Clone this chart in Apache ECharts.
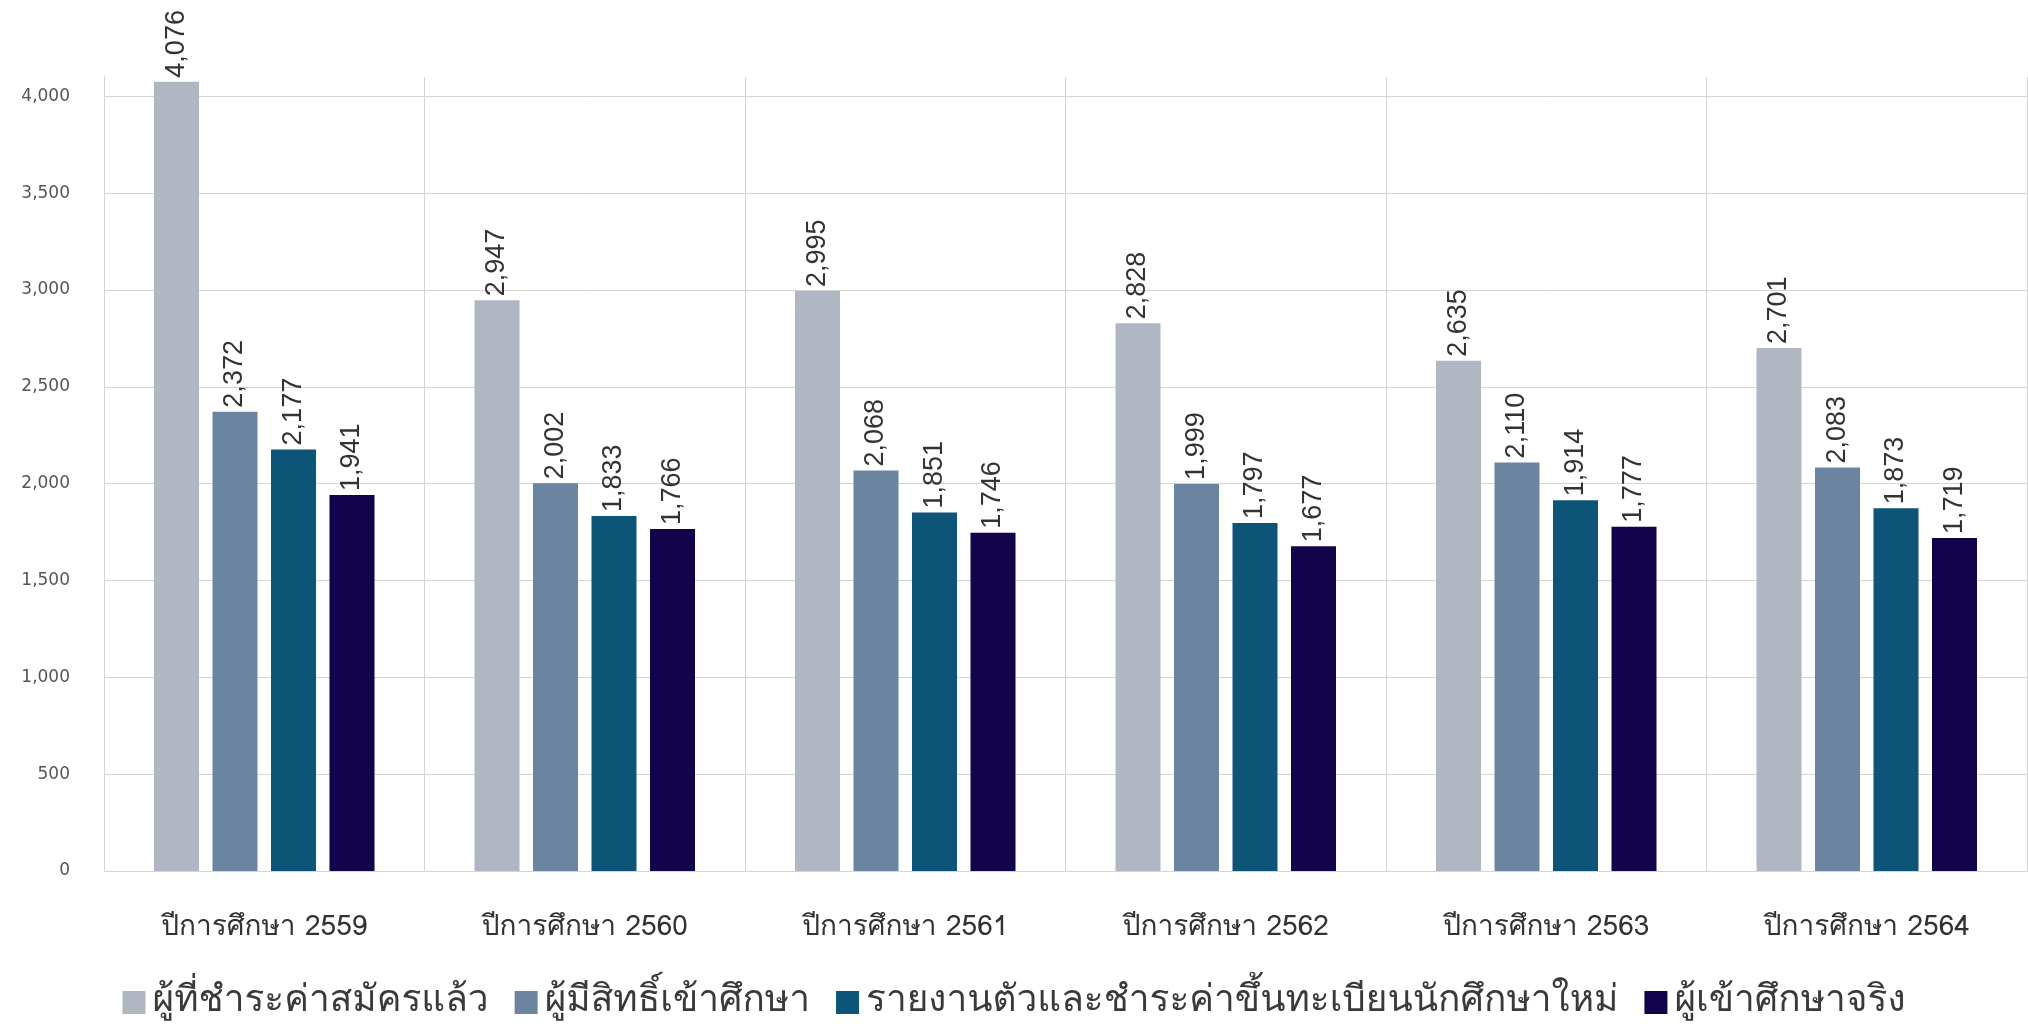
<!DOCTYPE html>
<html>
<head>
<meta charset="utf-8">
<script src="https://cdn.jsdelivr.net/npm/echarts@6/dist/echarts.min.js"></script>
<style>html,body{margin:0;padding:0;background:#fff}#c{width:2028px;height:1024px}</style>
</head>
<body>
<div id="c"></div>
<script>
const categories = ['ปีการศึกษา 2559','ปีการศึกษา 2560','ปีการศึกษา 2561','ปีการศึกษา 2562','ปีการศึกษา 2563','ปีการศึกษา 2564'];
const seriesNames = ['ผู้ที่ชำระค่าสมัครแล้ว','ผู้มีสิทธิ์เข้าศึกษา','รายงานตัวและชำระค่าขึ้นทะเบียนนักศึกษาใหม่','ผู้เข้าศึกษาจริง'];
const paidApplicants = [4076, 2947, 2995, 2828, 2635, 2701];
const eligible = [2372, 2002, 2068, 1999, 2110, 2083];
const registered = [2177, 1833, 1851, 1797, 1914, 1873];
const enrolled = [1941, 1766, 1746, 1677, 1777, 1719];
const yTicks = [0, 500, 1000, 1500, 2000, 2500, 3000, 3500, 4000];
const colors = ['#b1b6c3', '#6b85a0', '#0c5577', '#13034b'];
const seriesData = [paidApplicants, eligible, registered, enrolled];

const thaiFont = 'Waree, Loma, Tahoma, "DejaVu Sans", "Noto Sans Thai", sans-serif';
const chart = echarts.init(document.getElementById('c'));
chart.setOption({
  animation: false,
  color: colors,
  grid: { left: 104, right: 1, top: 77, bottom: 153 },
  legend: {
    data: seriesNames,
    top: 979,
    left: 'center',
    icon: 'rect',
    itemWidth: 23,
    itemHeight: 23,
    itemGap: 26,
    textStyle: { fontFamily: thaiFont, fontSize: 37, color: '#3a3a3a', padding: [0, 0, 0, 2] }
  },
  xAxis: {
    type: 'category',
    data: categories,
    axisLine: { show: true, lineStyle: { color: '#d4d4d4', width: 1 } },
    axisTick: { show: false },
    splitLine: { show: true, lineStyle: { color: '#d4d4d4', width: 1 } },
    axisLabel: { fontFamily: thaiFont, fontSize: 28, color: '#333', margin: 44 }
  },
  yAxis: {
    type: 'value',
    min: 0,
    max: 4100,
    interval: 500,
    axisLine: { show: true, lineStyle: { color: '#d4d4d4', width: 1 } },
    axisTick: { show: false },
    splitLine: { show: true, showMaxLine: false, lineStyle: { color: '#d4d4d4', width: 1 } },
    axisLabel: {
      fontFamily: '"DejaVu Sans", sans-serif',
      fontSize: 17,
      color: '#555',
      margin: 34,
      formatter: function (v) { return yTicks.indexOf(v) >= 0 ? v.toLocaleString('en-US') : ''; }
    }
  },
  series: seriesData.map((d, i) => ({
    name: seriesNames[i],
    type: 'bar',
    data: d,
    barWidth: 45,
    barGap: '30%',
    itemStyle: { color: colors[i] },
    label: {
      show: true,
      position: 'top',
      rotate: 90,
      align: 'left',
      verticalAlign: 'middle',
      distance: 4,
      fontFamily: '"Liberation Sans", Arial, sans-serif',
      fontSize: 27,
      color: '#333',
      formatter: p => p.value.toLocaleString('en-US')
    }
  }))
});
</script>
</body>
</html>
